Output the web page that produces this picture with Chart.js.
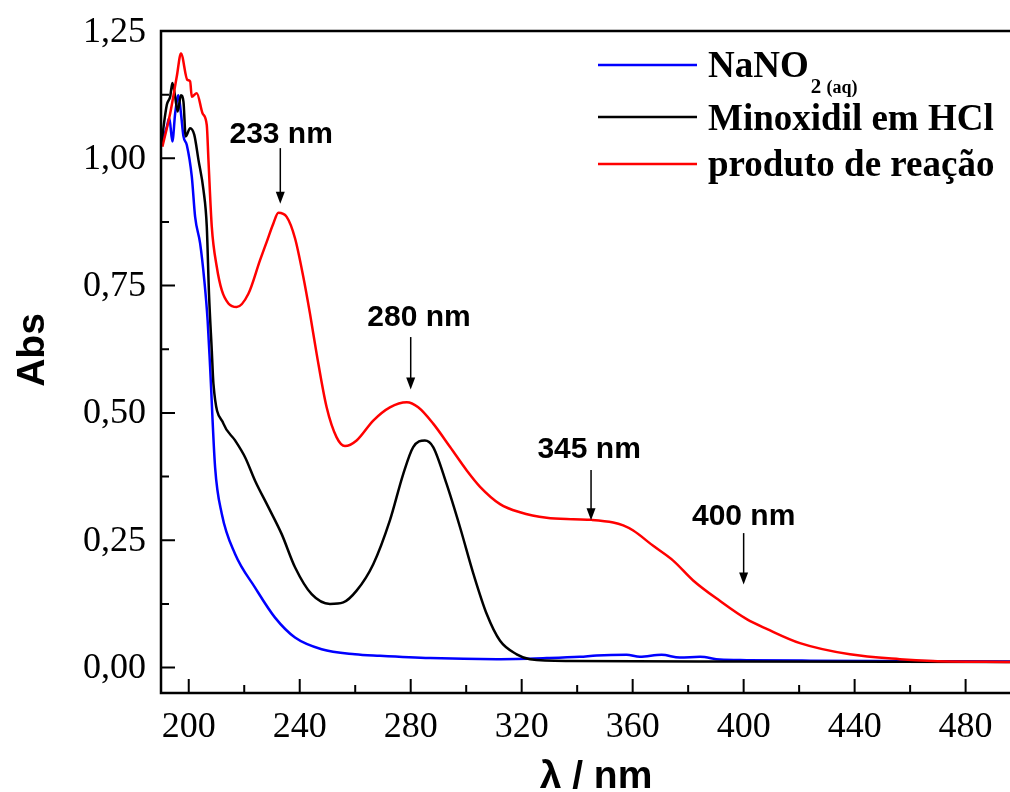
<!DOCTYPE html>
<html>
<head>
<meta charset="utf-8">
<script src="https://cdn.jsdelivr.net/npm/chart.js@4.4.1/dist/chart.umd.min.js"></script>
<style>
  html, body { margin: 0; padding: 0; background: #fff; }
  #wrap { width: 1010px; height: 792px; }
</style>
</head>
<body>
<div id="wrap"><canvas id="spectra" width="1010" height="792"></canvas></div>
<script>
// Espectros UV-Vis (comprimento de onda em nm, absorbância)
const nitriteNm = [190.3, 192.1, 193.0, 194.1, 195.1, 196.3, 197.2, 198.1, 199.3, 201.1, 202.3, 204.1, 205.6, 206.8, 207.7, 209.5, 211.9, 216.7, 223.9, 231.1, 238.3, 247.9, 259.9, 268.9, 287.0, 311.0, 329.0, 341.0, 347.0, 357.8, 362.6, 370.4, 377.0, 384.3, 391.4, 401.1, 424.0, 496.0];
const nitriteAbs = [1.029, 1.062, 1.079, 1.033, 1.088, 1.124, 1.088, 1.043, 1.026, 0.964, 0.885, 0.833, 0.761, 0.682, 0.590, 0.393, 0.302, 0.223, 0.157, 0.098, 0.059, 0.036, 0.026, 0.023, 0.0185, 0.0165, 0.0185, 0.021, 0.0236, 0.025, 0.021, 0.025, 0.0197, 0.021, 0.0157, 0.0145, 0.0135, 0.012];

const minoxidilNm = [190.0, 192.1, 193.3, 194.1, 195.1, 196.0, 197.2, 198.1, 198.9, 200.5, 202.0, 203.5, 205.3, 206.5, 207.3, 208.3, 208.9, 212.5, 216.7, 220.3, 223.9, 228.7, 233.5, 238.3, 244.3, 250.9, 255.7, 260.5, 266.5, 272.5, 277.3, 280.9, 285.1, 288.1, 292.9, 297.8, 302.6, 307.4, 312.2, 318.2, 323.0, 337.4, 400.0, 496.0];
const minoxidilAbs = [1.023, 1.105, 1.121, 1.148, 1.121, 1.092, 1.124, 1.111, 1.043, 1.059, 1.046, 0.997, 0.938, 0.866, 0.734, 0.623, 0.557, 0.479, 0.446, 0.413, 0.367, 0.315, 0.262, 0.197, 0.144, 0.125, 0.128, 0.151, 0.203, 0.289, 0.380, 0.433, 0.446, 0.433, 0.361, 0.275, 0.184, 0.105, 0.0525, 0.026, 0.0165, 0.013, 0.012, 0.011];

const productNm = [190.5, 193.3, 195.7, 197.2, 199.5, 200.5, 201.1, 202.9, 205.0, 206.5, 207.1, 208.3, 210.1, 211.9, 214.3, 217.3, 221.5, 225.7, 228.1, 230.5, 232.3, 235.3, 238.3, 241.3, 243.7, 246.1, 249.7, 253.3, 256.3, 260.5, 266.5, 272.5, 278.6, 282.7, 288.1, 294.2, 300.2, 305.0, 312.2, 319.4, 329.0, 338.6, 345.2, 353.0, 356.6, 360.2, 367.4, 374.6, 381.8, 391.4, 401.1, 408.3, 420.3, 438.3, 456.3, 468.2, 496.0];
const productAbs = [1.023, 1.088, 1.161, 1.206, 1.154, 1.151, 1.121, 1.128, 1.088, 1.065, 0.997, 0.866, 0.787, 0.741, 0.715, 0.708, 0.734, 0.800, 0.836, 0.872, 0.893, 0.885, 0.843, 0.767, 0.695, 0.616, 0.511, 0.452, 0.435, 0.446, 0.485, 0.511, 0.521, 0.511, 0.479, 0.433, 0.387, 0.355, 0.321, 0.305, 0.294, 0.291, 0.290, 0.285, 0.279, 0.269, 0.239, 0.210, 0.171, 0.131, 0.095, 0.076, 0.048, 0.026, 0.0165, 0.013, 0.011];

// Eixos
const xTicks = [200, 240, 280, 320, 360, 400, 440, 480];
const xMinorTicks = [220, 260, 300, 340, 380, 420, 460];
const yTicks = [0, 0.25, 0.5, 0.75, 1.0, 1.25];
const yTickLabels = ['0,00', '0,25', '0,50', '0,75', '1,00', '1,25'];
const yMinorTicks = [0.125, 0.375, 0.625, 0.875, 1.125];

// Marcações das bandas (texto + seta)
const peakLabels = ['233 nm', '280 nm', '345 nm', '400 nm'];
const peakArrowNm = [233, 280, 345, 400];
const peakTextNm = [233.3, 283, 344.3, 400];
const peakTextAbs = [1.031, 0.670, 0.412, 0.279];
const peakArrowTop = [1.020, 0.649, 0.388, 0.264];
const peakArrowTip = [0.911, 0.546, 0.289, 0.163];

const seriesColors = ['#0000ff', '#000000', '#ff0000'];
const serif = '"Liberation Serif", "Times New Roman", serif';
const sans = '"Liberation Sans", Arial, sans-serif';

function toPoints(xs, ys) {
    return xs.map((v, i) => ({ x: v, y: ys[i] }));
}

const decorPlugin = {
    id: 'decor',
    afterDatasetsDraw(chart) {
        const { ctx, chartArea: a, scales: { x, y } } = chart;
        ctx.save();

        // moldura
        ctx.strokeStyle = '#000';
        ctx.lineWidth = 2.5;
        ctx.beginPath();
        ctx.moveTo(a.right + 2, a.top);
        ctx.lineTo(a.left, a.top);
        ctx.lineTo(a.left, a.bottom);
        ctx.lineTo(a.right + 2, a.bottom);
        ctx.stroke();

        // marcas para dentro
        ctx.lineWidth = 2;
        ctx.beginPath();
        xTicks.forEach(v => { const px = x.getPixelForValue(v); ctx.moveTo(px, a.bottom); ctx.lineTo(px, a.bottom - 14); });
        xMinorTicks.forEach(v => { const px = x.getPixelForValue(v); ctx.moveTo(px, a.bottom); ctx.lineTo(px, a.bottom - 8); });
        yTicks.forEach(v => { const py = y.getPixelForValue(v); ctx.moveTo(a.left, py); ctx.lineTo(a.left + 14, py); });
        yMinorTicks.forEach(v => { const py = y.getPixelForValue(v); ctx.moveTo(a.left, py); ctx.lineTo(a.left + 8, py); });
        ctx.stroke();

        // rótulos dos eixos
        ctx.fillStyle = '#000';
        ctx.font = '36px ' + serif;
        ctx.textBaseline = 'alphabetic';
        ctx.textAlign = 'center';
        xTicks.forEach(v => ctx.fillText(String(v), x.getPixelForValue(v), a.bottom + 44));
        ctx.textAlign = 'right';
        yTicks.forEach((v, i) => ctx.fillText(yTickLabels[i], a.left - 15, y.getPixelForValue(v) + 10.5));

        // bandas
        ctx.font = 'bold 30px ' + sans;
        ctx.textAlign = 'center';
        ctx.lineWidth = 1.5;
        peakLabels.forEach((txt, i) => {
            ctx.fillText(txt, x.getPixelForValue(peakTextNm[i]), y.getPixelForValue(peakTextAbs[i]));
            const ax = x.getPixelForValue(peakArrowNm[i]);
            const y0 = y.getPixelForValue(peakArrowTop[i]);
            const y1 = y.getPixelForValue(peakArrowTip[i]);
            ctx.beginPath();
            ctx.moveTo(ax, y0);
            ctx.lineTo(ax, y1 - 10);
            ctx.stroke();
            ctx.beginPath();
            ctx.moveTo(ax, y1);
            ctx.lineTo(ax - 4.5, y1 - 12);
            ctx.lineTo(ax + 4.5, y1 - 12);
            ctx.closePath();
            ctx.fill();
        });

        // legenda
        const legendRows = [65, 117, 164];
        const legendBase = [77, 129.5, 176];
        ctx.lineWidth = 2.5;
        legendRows.forEach((ly, i) => {
            ctx.strokeStyle = seriesColors[i];
            ctx.beginPath();
            ctx.moveTo(598, ly);
            ctx.lineTo(697, ly);
            ctx.stroke();
        });
        ctx.textAlign = 'left';
        ctx.font = 'bold 37px ' + serif;
        ctx.fillText('NaNO', 708, legendBase[0]);
        const w = ctx.measureText('NaNO').width;
        ctx.font = 'bold 21px ' + serif;
        ctx.fillText('2', 708 + w + 2, legendBase[0] + 16);
        const w2 = ctx.measureText('2 ').width;
        ctx.font = 'bold 18px ' + serif;
        ctx.fillText('(aq)', 708 + w + 2 + w2, legendBase[0] + 16);
        ctx.font = 'bold 37px ' + serif;
        ctx.fillText('Minoxidil em HCl', 708, legendBase[1]);
        ctx.fillText('produto de reação', 708, legendBase[2]);

        // títulos dos eixos
        ctx.font = 'bold 39px ' + sans;
        ctx.textAlign = 'center';
        ctx.fillText('λ / nm', 596, 788);
        ctx.translate(44, 350);
        ctx.rotate(-Math.PI / 2);
        ctx.fillText('Abs', 0, 0);

        ctx.restore();
    }
};

new Chart(document.getElementById('spectra'), {
    type: 'line',
    data: {
        datasets: [
            { label: 'NaNO2 (aq)', data: toPoints(nitriteNm, nitriteAbs), borderColor: seriesColors[0], order: 3 },
            { label: 'Minoxidil em HCl', data: toPoints(minoxidilNm, minoxidilAbs), borderColor: seriesColors[1], order: 2 },
            { label: 'produto de reação', data: toPoints(productNm, productAbs), borderColor: seriesColors[2], order: 1 }
        ]
    },
    options: {
        responsive: false,
        animation: false,
        devicePixelRatio: 1,
        layout: { padding: { top: 31, right: 0, left: 0, bottom: 0 } },
        elements: {
            point: { radius: 0 },
            line: { borderWidth: 2.5, cubicInterpolationMode: 'monotone', fill: false }
        },
        plugins: { legend: { display: false }, tooltip: { enabled: false } },
        scales: {
            x: {
                type: 'linear',
                min: 190,
                max: 496,
                grid: { display: false, drawTicks: false },
                border: { display: false },
                ticks: { display: false },
                afterBuildTicks: s => { s.ticks = xTicks.map(v => ({ value: v })); },
                afterFit: s => { s.height = 99; }
            },
            y: {
                min: -0.05,
                max: 1.25,
                grid: { display: false, drawTicks: false },
                border: { display: false },
                ticks: { display: false },
                afterBuildTicks: s => { s.ticks = yTicks.map(v => ({ value: v })); },
                afterFit: s => { s.width = 161; }
            }
        }
    },
    plugins: [decorPlugin]
});
</script>
</body>
</html>
